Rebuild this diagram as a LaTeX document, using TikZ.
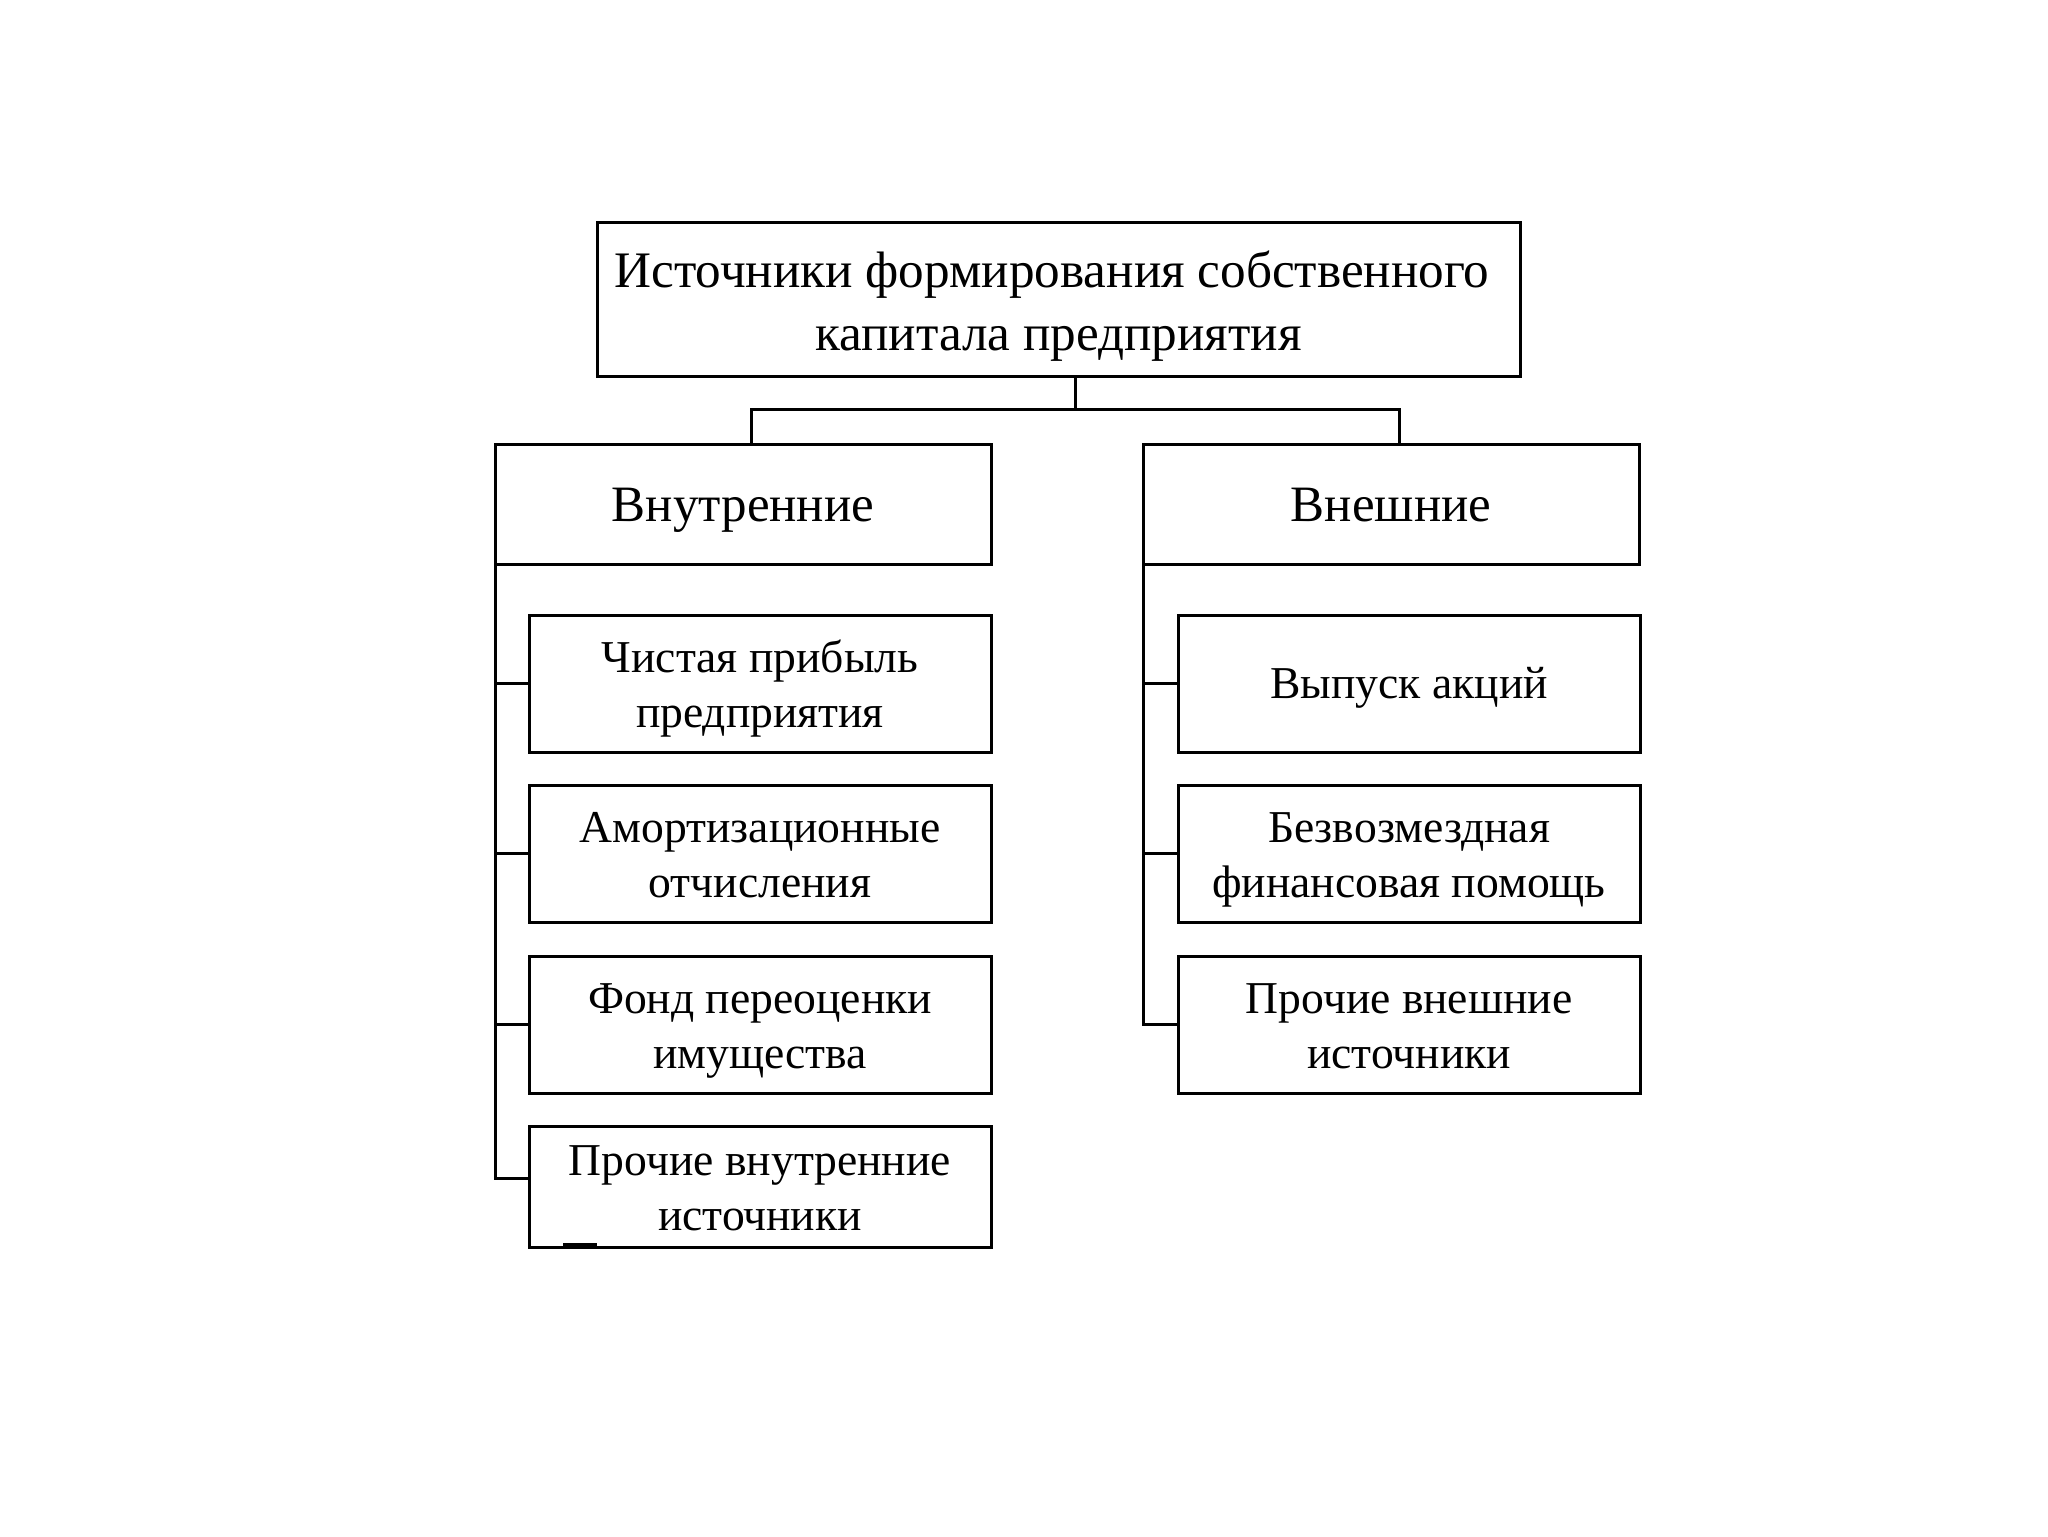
\documentclass[tikz,border=0pt]{standalone}
\usepackage{fontspec}
\setmainfont{Liberation Serif}
\newcommand{\bgs}{\rule[-7.15pt]{0pt}{31.65pt}}
\newcommand{\bgtops}{\rule[-7.15pt]{0pt}{34.25pt}}
\newcommand{\sms}{\rule[-6.15pt]{0pt}{27.5pt}}
\newcommand{\smtops}{\rule[-6.15pt]{0pt}{28.8pt}}
\begin{document}
\begin{tikzpicture}[x=0.5pt,y=-0.5pt,
  box/.style={draw=black,line width=1.5pt,inner sep=0pt,outer sep=0pt,align=center,text=black},
  bigtxt/.style={font=\fontsize{25.6}{31.65}\selectfont},
  midtxt/.style={font=\fontsize{25.5}{31.65}\selectfont},
  smalltxt/.style={font=\fontsize{22.8}{27.5}\selectfont},
  conn/.style={draw=black,line width=1.5pt}]
\useasboundingbox[fill=white] (0,0) rectangle (2048,1536);
% top
\node[box,bigtxt,minimum width=461.5pt,minimum height=77pt] (top) at (1058.5,299) {\bgtops Источники формирования собственного\hspace*{6.5pt}\\\bgs капитала предприятия};
% middle
\node[box,midtxt,minimum width=248pt,minimum height=60pt] (L) at (743,504) {\bgs Внутренние};
\node[box,midtxt,minimum width=248pt,minimum height=60pt] (R) at (1391,504) {\bgs Внешние};
% left children
\node[box,smalltxt,minimum width=231pt,minimum height=68.5pt] (l1) at (760,683.5) {\smtops Чистая прибыль\\\sms предприятия};
\node[box,smalltxt,minimum width=231pt,minimum height=68.5pt] (l2) at (760,853.5) {\smtops Амортизационные\\\sms отчисления};
\node[box,smalltxt,minimum width=231pt,minimum height=68.5pt] (l3) at (760,1024.5) {\smtops Фонд переоценки\\\sms имущества};
\node[box,smalltxt,minimum width=231pt,minimum height=60.5pt] (l4) at (760,1186.5) {\smtops Прочие внутренние\\\sms источники};
% right children
\node[box,smalltxt,minimum width=231pt,minimum height=68.5pt] (r1) at (1409,683.5) {\sms Выпуск акций};
\node[box,smalltxt,minimum width=231pt,minimum height=68.5pt] (r2) at (1409,853.5) {\smtops Безвозмездная\\\sms финансовая помощь};
\node[box,smalltxt,minimum width=231pt,minimum height=68.5pt] (r3) at (1409,1024.5) {\smtops Прочие внешние\\\sms источники};
% connectors
\coordinate (j) at (1075,409);
\coordinate (jl) at (751,409);
\coordinate (jr) at (1399,409);
\draw[conn] (j |- top.south) -- (j);
\draw[conn] (jl |- L.north) -- (jl) -- (jr) -- (jr |- R.north);
\coordinate (le) at (495,1178);
\draw[conn] (L.south west) -- (le) -- (le -| l4.west);
\draw[conn] (L.south west |- l1.west) -- (l1.west);
\draw[conn] (L.south west |- l2.west) -- (l2.west);
\draw[conn] (L.south west |- l3.west) -- (l3.west);
\draw[conn] (R.south west) -- (R.south west |- r3.west) -- (r3.west);
\draw[conn] (R.south west |- r1.west) -- (r1.west);
\draw[conn] (R.south west |- r2.west) -- (r2.west);
% small underscore mark
\draw[line width=1.1pt] (563,1244.5) -- (597,1244.5);
\end{tikzpicture}
\end{document}
